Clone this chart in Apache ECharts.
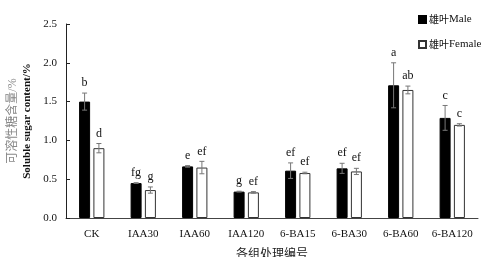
<!DOCTYPE html>
<html><head><meta charset="utf-8">
<script src="https://cdn.jsdelivr.net/npm/echarts@6/dist/echarts.min.js"></script>
<style>html,body{margin:0;padding:0;background:#fff}#c{width:483px;height:257px}</style>
</head><body><div id="c"></div>
<script>
var categories = ['CK','IAA30','IAA60','IAA120','6-BA15','6-BA30','6-BA60','6-BA120'];
var maleValues = [1.50,0.45,0.665,0.34,0.61,0.64,1.71,1.29];
var maleErrors = [0.11,0.005,0.01,0.005,0.10,0.065,0.29,0.16];
var maleLetters = ['b','fg','e','g','ef','ef','a','c'];
var femaleValues = [0.90,0.36,0.65,0.33,0.58,0.60,1.65,1.20];
var femaleErrors = [0.06,0.04,0.08,0.01,0.01,0.04,0.05,0.015];
var femaleLetters = ['d','g','ef','ef','ef','ef','ab','c'];
var yTicks = [0,0.5,1.0,1.5,2.0,2.5];

var FONT = '"Liberation Serif","Noto Sans CJK SC",serif';
var chart = echarts.init(document.getElementById('c'));

function errSeries(values, errors, letters, offset){
  return {
    type:'custom', z:5, silent:true,
    data: values.map(function(v,i){return [i,v,errors[i]];}),
    renderItem:function(params, api){
      var i = api.value(0), v = api.value(1), e = api.value(2);
      var c = api.coord([i, v]);
      var t = api.coord([i, v+e]);
      var b = api.coord([i, v-e]);
      var x = c[0] + offset;
      var cap = 2.5;
      var st = {stroke:'#777', lineWidth:1};
      return {type:'group', children:[
        {type:'line', shape:{x1:x,y1:t[1],x2:x,y2:b[1]}, style:st},
        {type:'line', shape:{x1:x-cap,y1:t[1],x2:x+cap,y2:t[1]}, style:st},
        {type:'line', shape:{x1:x-cap,y1:b[1],x2:x+cap,y2:b[1]}, style:st},
        {type:'text', style:{text:letters[i], x:x, y:t[1]-4, textAlign:'center', textVerticalAlign:'bottom', font:'12px '+FONT, fill:'#111'}}
      ]};
    }
  };
}

chart.setOption({
  animation:false,
  grid:{left:66, right:5, top:24, bottom:39, outerBoundsMode:'none', containLabel:false},
  legend:{
    orient:'vertical', left:413, top:9, itemWidth:7, itemHeight:7, itemGap:14,
    icon:'rect',
    formatter:function(n){ return '{c|雄叶}{e|' + n.replace('雄叶','') + '}'; },
    textStyle:{padding:[0,0,0,-2], rich:{
      c:{fontFamily:'"Noto Sans CJK SC",serif', fontSize:10, color:'#111'},
      e:{fontFamily:FONT, fontSize:11, color:'#111'}
    }},
    data:['雄叶Male','雄叶Female']
  },
  xAxis:{
    type:'category', data:categories,
    name:'各组处理编号', nameLocation:'middle', nameGap:31,
    nameTextStyle:{fontFamily:FONT, fontSize:12, color:'#222'},
    axisLine:{lineStyle:{color:'#444', width:1}},
    axisTick:{inside:true, length:4, lineStyle:{color:'#444'}},
    axisLabel:{interval:0, fontFamily:FONT, fontSize:11, color:'#111', margin:11}
  },
  yAxis:{
    type:'value', min:0, max:2.5, interval:0.5,
    name:'{a|可溶性糖含量/%}\n{b|Soluble sugar content/%}',
    nameLocation:'middle', nameGap:29, nameRotate:90,
    nameTextStyle:{rich:{
      a:{fontFamily:FONT, fontSize:12, color:'#888', lineHeight:14},
      b:{fontFamily:FONT, fontSize:11, fontWeight:'bold', color:'#111', lineHeight:14}
    }},
    axisLine:{show:true, lineStyle:{color:'#222', width:1}},
    axisTick:{show:true, inside:true, length:4, lineStyle:{color:'#222'}},
    splitLine:{show:false},
    axisLabel:{fontFamily:FONT, fontSize:11, color:'#111', margin:9,
      formatter:function(v){return v.toFixed(1);}}
  },
  series:[
    {name:'雄叶Male', type:'bar', data:maleValues, barWidth:11, barGap:'30%',
     itemStyle:{color:'#000', borderColor:'#000', borderWidth:1}},
    {name:'雄叶Female', type:'bar', data:femaleValues, barWidth:11,
     itemStyle:{color:'#fff', borderColor:'#333', borderWidth:1}},
    errSeries(maleValues, maleErrors, maleLetters, -7.15),
    errSeries(femaleValues, femaleErrors, femaleLetters, 7.15)
  ]
});
</script></body></html>
